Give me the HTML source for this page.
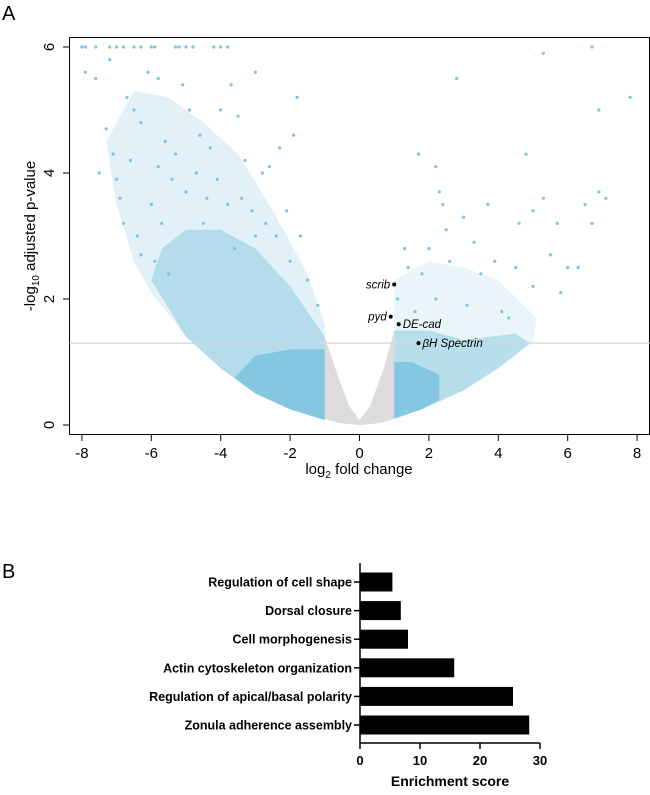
<!DOCTYPE html>
<html><head><meta charset="utf-8">
<style>
body{margin:0;background:#fff;width:650px;height:790px;overflow:hidden;font-family:"Liberation Sans",sans-serif}
svg text{font-family:"Liberation Sans",sans-serif}
</style></head>
<body>
<svg id="v" width="650" height="790" xmlns="http://www.w3.org/2000/svg">
<text x="2" y="20" font-size="20">A</text>
<text x="2" y="578" font-size="20">B</text>
<g id="volcano"></g>
<g id="bars"></g>
</svg>
<script>
// ---------- volcano data ----------
const xTicks=[-8,-6,-4,-2,0,2,4,6,8];
const yTicks=[0,2,4,6];
const threshold=1.3;
const grayBody=[[-1,0.1],[-0.6,0.03],[0,0],[0.6,0.03],[1,0.1],[1,1.5],[0.7,0.9],[0.3,0.3],[0,0.08],[-0.3,0.3],[-0.7,0.9],[-1,1.4]];
const leftOuter=[[-7.3,4.5],[-7,3.5],[-6.5,2.6],[-6,2.1],[-5,1.4],[-4,0.9],[-3,0.5],[-2,0.25],[-1,0.08],[-1,1.6],[-1.5,2.4],[-2.5,3.4],[-3.5,4.3],[-4.5,4.8],[-5.5,5.2],[-6.5,5.3]];
const leftBody=[[-6,2.3],[-5,1.4],[-4,0.9],[-3,0.5],[-2,0.25],[-1,0.08],[-1,1.4],[-2,2.2],[-3,2.8],[-4,3.1],[-5,3.1],[-5.7,2.8]];
const leftCore=[[-1,0.08],[-2,0.25],[-3,0.5],[-3.6,0.75],[-3,1.1],[-2,1.2],[-1,1.2]];
const rightOuter=[[1,0.1],[2,0.3],[3,0.55],[4,0.9],[5,1.3],[5.1,1.7],[4,2.3],[3,2.5],[2,2.6],[1,2.3]];
const rightBody=[[1,0.1],[2,0.3],[3,0.55],[4,0.9],[4.9,1.3],[4.5,1.45],[3,1.35],[2,1.5],[1,1.5]];
const rightCore=[[1,0.1],[1.8,0.25],[2.3,0.4],[2.3,0.8],[1.5,1.0],[1,1.0]];
const ptX=[-8,-7.9,-7.6,-7.2,-7,-6.8,-6.5,-6.3,-6,-5.9,-5.3,-5.2,-5,-4.8,-4.2,-4,-3.8,
-7.9,-7.6,-7.2,-7.3,-7.1,-7,-6.9,-6.7,-6.5,-6.3,-6.1,-5.8,-5.6,-5.3,-5.1,-4.9,-4.6,-4.3,-4.0,-3.7,-3.5,-3.3,-3,-2.8,-2.6,-2.3,-2.1,-1.9,-1.8,-1.7,
-6.8,-6.4,-6.0,-5.7,-5.4,-5.0,-4.7,-4.4,-4.1,-3.8,-3.4,-3.1,-2.7,-2.4,-6.3,-5.9,-5.5,-2.0,-1.5,-1.2,-7.5,-6.6,-5.8,-4.5,-3.6,-3.0,
1.1,1.4,1.6,1.8,2.0,2.2,2.3,2.4,2.5,2.6,2.8,3.0,3.3,3.5,3.7,3.9,4.1,4.5,4.6,4.8,5.0,5.0,5.3,5.3,5.5,5.7,5.8,6.0,6.3,6.5,6.7,6.7,6.9,6.9,7.1,7.8,1.7,2.2,3.1,4.3,1.3];
const ptY=[6,6,6,6,6,6,6,6,6,6,6,6,6,6,6,6,6,
5.6,5.5,5.8,4.7,4.3,3.9,3.6,5.2,5.0,4.8,5.6,5.5,4.5,4.3,5.4,5.0,4.6,4.4,5.0,5.4,4.9,4.2,5.6,4.0,4.1,4.4,3.4,4.6,5.2,3.0,
3.2,3.0,3.5,3.2,3.9,3.7,4.0,3.6,3.9,3.5,3.6,3.4,3.2,3.0,2.7,2.6,2.4,2.6,2.3,1.9,4.0,4.2,4.1,3.2,2.8,3.0,
2.0,2.5,1.8,2.4,2.8,4.1,3.7,3.5,3.1,2.6,5.5,3.3,2.9,2.4,3.5,2.6,1.8,2.5,3.2,4.3,3.4,2.2,3.6,5.9,2.7,3.2,2.1,2.5,2.5,3.5,6.0,3.2,5.0,3.7,3.6,5.2,4.3,2.0,1.9,1.7,2.8];
const genes=["scrib","pyd","DE-cad","βH Spectrin"];
const geneX=[1.0,0.9,1.13,1.7];
const geneY=[2.23,1.72,1.6,1.3];
// ---------- bar data ----------
const terms=["Regulation of cell shape","Dorsal closure","Cell morphogenesis","Actin cytoskeleton organization","Regulation of apical/basal polarity","Zonula adherence assembly"];
const scores=[5.4,6.8,8.0,15.7,25.5,28.2];
const barTicks=[0,10,20,30];

const NS="http://www.w3.org/2000/svg";
function mk(parent,tag,attrs){const e=document.createElementNS(NS,tag);for(const k in attrs)e.setAttribute(k,attrs[k]);parent.appendChild(e);return e;}
const sx=v=>359.5+v*34.7, sy=v=>425-v*63;
const V=document.getElementById('volcano');
let fr=mk(V,'rect',{x:69.5,y:37.5,width:580,height:397,fill:'none',stroke:'#000','stroke-width':1});


function poly(arr,fill,op,name){const p=mk(V,'polygon',{points:arr.map(d=>sx(d[0])+','+sy(d[1])).join(' '),fill:fill,'fill-opacity':op});

}
poly(grayBody,'#dcdcdc',1,'nonsignificant-cloud');
poly(leftOuter,'#87c8e0',0.25,'downregulated-sparse');
poly(leftBody,'#87c8e0',0.5,'downregulated-cloud');
poly(leftCore,'#7ec4e0',0.9,'downregulated-core');
poly(rightOuter,'#87c8e0',0.18,'upregulated-sparse');
poly(rightBody,'#87c8e0',0.5,'upregulated-cloud');
poly(rightCore,'#7ec4e0',0.9,'upregulated-core');
for(let i=0;i<ptX.length;i++){
 const c=mk(V,'circle',{cx:sx(ptX[i]),cy:sy(ptY[i]),r:1.6,fill:'#7ec4e0'});
 
 
}
let th=mk(V,'line',{x1:69.5,x2:650,y1:sy(threshold),y2:sy(threshold),stroke:'#d6d6d6','stroke-width':1.2});


for(let i=0;i<genes.length;i++){
 const c=mk(V,'circle',{cx:sx(geneX[i]),cy:sy(geneY[i]),r:2,fill:'#000'});
 
 
 const left=i<2;
 const t=mk(V,'text',{x:sx(geneX[i])+(left?-4:4),y:sy(geneY[i])+4,'font-size':11.5,'font-style':'italic','text-anchor':left?'end':'start'});
 t.textContent=genes[i];
 
 
}
xTicks.forEach(v=>{
 const l=mk(V,'line',{x1:sx(v),x2:sx(v),y1:435,y2:441,stroke:'#000'});
 
 
 const t=mk(V,'text',{x:sx(v),y:458,'font-size':15,'text-anchor':'middle'});t.textContent=v;
 
 
});
yTicks.forEach(v=>{
 const l=mk(V,'line',{x1:63,x2:69.5,y1:sy(v),y2:sy(v),stroke:'#000'});
 
 
 const t=mk(V,'text',{x:54,y:sy(v),'font-size':15,'text-anchor':'middle',transform:`rotate(-90 54 ${sy(v)})`});t.textContent=v;
 
 
});
let xl=mk(V,'text',{x:359,y:474,'font-size':15,'text-anchor':'middle'});
xl.innerHTML='log<tspan font-size="10" dy="4">2</tspan><tspan dy="-4"> fold change</tspan>';


let yl=mk(V,'text',{x:35,y:236,'font-size':15,'text-anchor':'middle',transform:'rotate(-90 35 236)'});
yl.innerHTML='-log<tspan font-size="10" dy="4">10</tspan><tspan dy="-4"> adjusted p-value</tspan>';



// ---------- bars ----------
const B=document.getElementById('bars');
const bx=v=>360+v*6, by=i=>582+i*28.6;
let ya=mk(B,'line',{x1:360,x2:360,y1:563,y2:743,stroke:'#000','stroke-width':1.5});


let xa=mk(B,'line',{x1:360,x2:bx(30),y1:743,y2:743,stroke:'#000','stroke-width':1.5});


terms.forEach((n,i)=>{
 const r=mk(B,'rect',{x:360,y:by(i)-9.5,width:bx(scores[i])-360,height:19,fill:'#000'});
 
 
 const l=mk(B,'line',{x1:354,x2:360,y1:by(i),y2:by(i),stroke:'#000','stroke-width':1.5});
 
 
 const t=mk(B,'text',{x:352,y:by(i)+4.5,'font-size':12.5,'font-weight':'bold','text-anchor':'end'});t.textContent=n;
 
 
});
barTicks.forEach(v=>{
 const l=mk(B,'line',{x1:bx(v),x2:bx(v),y1:743,y2:749,stroke:'#000','stroke-width':1.5});
 
 
 const t=mk(B,'text',{x:bx(v),y:765,'font-size':13,'font-weight':'bold','text-anchor':'middle'});t.textContent=v;
 
 
});
let bt=mk(B,'text',{x:450,y:786,'font-size':14,'font-weight':'bold','text-anchor':'middle'});bt.textContent='Enrichment score';


</script>
</body></html>
